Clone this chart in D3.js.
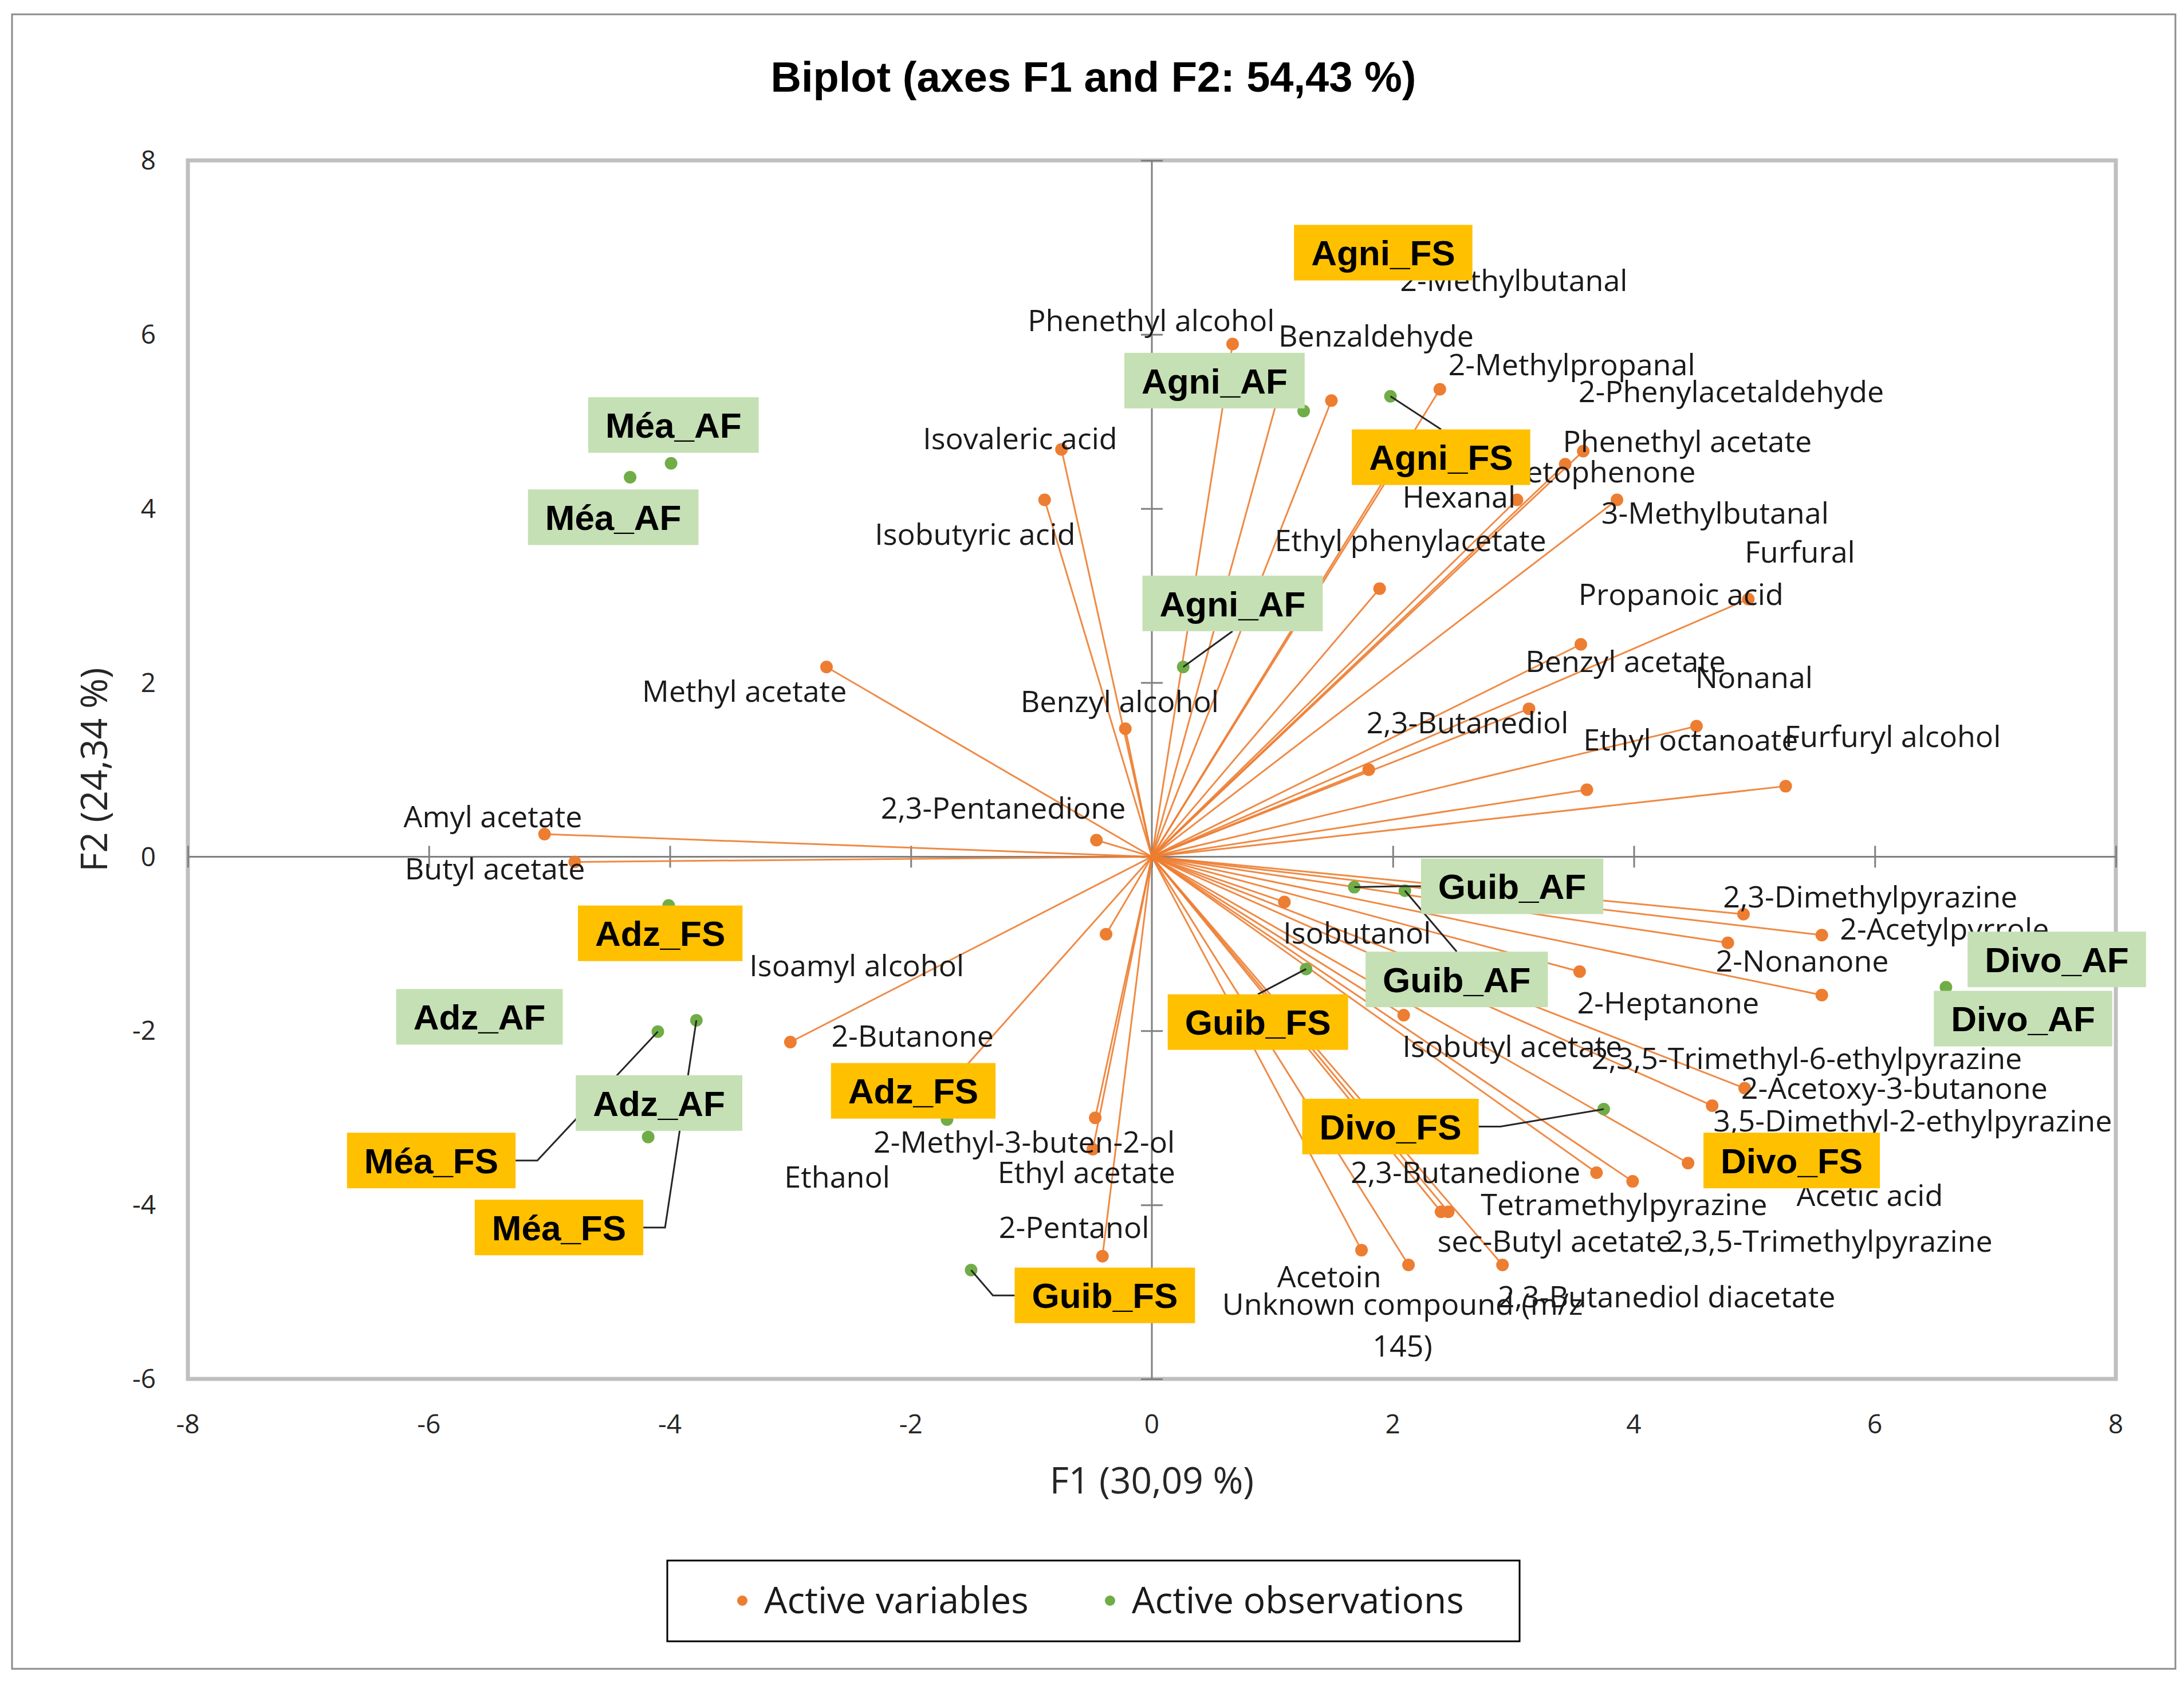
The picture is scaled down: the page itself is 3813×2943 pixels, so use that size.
<!DOCTYPE html>
<html><head><meta charset="utf-8">
<script src="https://cdn.jsdelivr.net/npm/d3@7"></script>
<style>body{margin:0;background:#fff}</style>
</head><body>
<svg id="chart" width="3813" height="2943" xmlns="http://www.w3.org/2000/svg"></svg>
<script>
// ---------- DATA ----------
const chartTitle = "Biplot (axes F1 and F2: 54,43 %)";
const xAxisTitle = "F1 (30,09 %)";
const yAxisTitle = "F2 (24,34 %)";
const xTicks = [-8, -6, -4, -2, 0, 2, 4, 6, 8];
const yTicks = [-6, -4, -2, 0, 2, 4, 6, 8];
const legendLabels = ["Active variables", "Active observations"];

// Active variables (loadings scaled to the biplot)
const varNames = ["Phenethyl alcohol","Benzaldehyde","2-Methylbutanal","2-Methylpropanal","2-Phenylacetaldehyde",
  "Phenethyl acetate","Acetophenone","Hexanal","3-Methylbutanal","Furfural","Propanoic acid","Ethyl phenylacetate",
  "Benzyl acetate","Nonanal","2,3-Butanediol","Ethyl octanoate","Furfuryl alcohol","Isovaleric acid","Isobutyric acid",
  "Methyl acetate","Benzyl alcohol","Amyl acetate","2,3-Pentanedione","Butyl acetate","Isoamyl alcohol","2-Butanone",
  "Ethanol","2-Methyl-3-buten-2-ol","Ethyl acetate","2-Pentanol","Isobutanol","2,3-Dimethylpyrazine","2-Acetylpyrrole",
  "2-Nonanone","2-Heptanone","Isobutyl acetate","2,3,5-Trimethyl-6-ethylpyrazine","2-Acetoxy-3-butanone",
  "3,5-Dimethyl-2-ethylpyrazine","Acetic acid","2,3-Butanedione","Tetramethylpyrazine","sec-Butyl acetate",
  "2,3,5-Trimethylpyrazine","Acetoin","Unknown compound (m/z|145)","2,3-Butanediol diacetate"];
const varF1 = [0.67,1.49,1.08,2.39,2.05, 3.58,3.43,3.03,3.86,4.95,3.56,1.89, 3.13,4.52,1.80,3.61,5.26,-0.75,-0.89,
  -2.70,-0.22,-5.04,-0.46,-4.79,-3.00,-1.70, -0.38,-0.47,-0.49,-0.41,1.10,4.91,5.56, 4.78,3.55,2.09,5.56,4.92,
  4.65,4.45,3.69,3.99,2.40, 2.46,1.74,2.13,2.91];
const varF2 = [5.89,5.24,5.45,5.37,4.55, 4.66,4.51,4.10,4.10,2.96,2.44,3.08, 1.70,1.50,1.00,0.77,0.81,4.68,4.10,
  2.18,1.47,0.26,0.19,-0.06,-2.13,-2.65, -0.89,-3.00,-3.36,-4.59,-0.52,-0.66,-0.90, -0.99,-1.32,-1.82,-1.59,-2.66,
  -2.86,-3.52,-3.63,-3.73,-4.08, -4.08,-4.52,-4.69,-4.69];
// label anchor positions (in F1/F2 units) as placed in the original chart
const varLabelF1 = [-1.03,1.05,2.06,2.46,3.54, 3.41,2.83,2.08,3.73,4.92,3.54,1.02, 3.10,4.51,1.78,3.58,5.25,-1.90,-2.30,
  -4.23,-1.09,-6.21,-2.25,-6.20,-3.34,-2.66, -3.05,-2.31,-1.28,-1.27,1.09,4.74,5.71, 4.68,3.53,2.08,3.65,4.89,
  4.66,5.35,1.65,2.73,2.37, 4.27,1.04,2.08,2.87];
const varLabelF2 = [6.16,5.98,6.62,5.65,5.34, 4.77,4.42,4.13,3.95,3.50,3.01,3.63, 2.24,2.06,1.54,1.34,1.38,4.80,3.70,
  1.90,1.78,0.46,0.56,-0.14,-1.25,-2.06, -3.68,-3.28,-3.63,-4.26,-0.88,-0.46,-0.83, -1.20,-1.68,-2.18,-2.32,-2.66,
  -3.04,-3.89,-3.63,-4.00,-4.42, -4.42,-4.83,-5.14,-5.06];

// Active observations
const obsNames = ["Agni_FS","Agni_AF","Agni_FS","Agni_AF","Méa_AF","Méa_AF","Guib_AF","Guib_AF","Adz_FS","Adz_AF",
  "Guib_FS","Divo_AF","Divo_AF","Adz_FS","Adz_AF","Divo_FS","Divo_FS","Méa_FS","Méa_FS","Guib_FS"];
const obsF1 = [1.90,1.26,1.98,0.26,-3.99,-4.33,1.68,2.10,-4.01,-5.60, 1.28,6.59,6.62,-1.70,-4.18,3.75,5.30,-4.10,-3.78,-1.50];
const obsF2 = [6.95,5.12,5.29,2.18,4.52,4.36,-0.35,-0.39,-0.56,-1.85, -1.29,-1.50,-1.62,-3.02,-3.22,-2.90,-3.50,-2.01,-1.88,-4.75];
// label box centres (F1/F2 units) and leader-line side
const obsLabelF1 = [1.92,0.52,2.40,0.67,-3.97,-4.47,2.99,2.53,-4.08,-5.58, 0.88,7.51,7.23,-1.98,-4.09,1.98,5.31,-5.98,-4.92,-0.39];
const obsLabelF2 = [6.94,5.47,4.59,2.91,4.96,3.90,-0.34,-1.41,-0.88,-1.84, -1.90,-1.18,-1.86,-2.69,-2.83,-3.10,-3.49,-3.49,-4.26,-5.04];
const obsLeader = [null,null,"top","bottom",null,null,"left","top",null,null,"top",null,null,null,null,"right",null,"right","right","left"];

// ---------- DRAWING ----------
const W = 3813, H = 2943;
const plot = {left: 328, right: 3694, top: 280, bottom: 2407};
const COL_VAR = "#ED7D31", COL_OBS = "#70AD47", COL_FS = "#FFC000", COL_AF = "#C5E0B4";
const FONT_TXT = "'Open Sans', 'Noto Sans', sans-serif";
const FONT_BOLD = "'Liberation Sans', Arial, sans-serif";

const svg = d3.select("#chart");
const x = d3.scaleLinear().domain([-8, 8]).range([plot.left, plot.right]);
const y = d3.scaleLinear().domain([-6, 8]).range([plot.bottom, plot.top]);

svg.append("rect").attr("x", 0).attr("y", 0).attr("width", W).attr("height", H).attr("fill", "#fff");
// outer frame
svg.append("rect").attr("x", 21).attr("y", 25).attr("width", 3777).attr("height", 2888)
  .attr("fill", "none").attr("stroke", "#8c8c8c").attr("stroke-width", 3);

// title
svg.append("text").attr("x", 1909).attr("y", 134).attr("text-anchor", "middle").attr("dy", "0.35em")
  .attr("font-family", FONT_BOLD).attr("font-weight", "bold").attr("font-size", 74)
  .text(chartTitle);

// plot border
svg.append("rect").attr("x", plot.left).attr("y", plot.top)
  .attr("width", plot.right - plot.left).attr("height", plot.bottom - plot.top)
  .attr("fill", "none").attr("stroke", "#BFBFBF").attr("stroke-width", 7);

// zero axes with cross ticks
const xAxis = d3.axisBottom(x).tickValues(xTicks).tickSize(38).tickFormat("");
const yAxis = d3.axisLeft(y).tickValues(yTicks).tickSize(38).tickFormat("");
const gx = svg.append("g").attr("transform", `translate(0,${y(0) - 19})`).call(xAxis);
gx.select(".domain").remove();
gx.selectAll("line").attr("stroke", "#808080").attr("stroke-width", 3);
svg.append("line").attr("x1", plot.left).attr("x2", plot.right).attr("y1", y(0)).attr("y2", y(0))
  .attr("stroke", "#808080").attr("stroke-width", 3);
const gy = svg.append("g").attr("transform", `translate(${x(0) + 19},0)`).call(yAxis);
gy.select(".domain").remove();
gy.selectAll("line").attr("stroke", "#808080").attr("stroke-width", 3);
svg.append("line").attr("x1", x(0)).attr("x2", x(0)).attr("y1", plot.top).attr("y2", plot.bottom)
  .attr("stroke", "#808080").attr("stroke-width", 3);

// tick labels (outside the plot, at the frame)
svg.append("g").selectAll("text").data(xTicks).join("text")
  .attr("x", d => x(d)).attr("y", 2486).attr("dy", "0.35em").attr("text-anchor", "middle")
  .attr("font-family", FONT_TXT).attr("font-size", 46).attr("fill", "#262626").text(d => d);
svg.append("g").selectAll("text").data(yTicks).join("text")
  .attr("x", 272).attr("y", d => y(d)).attr("dy", "0.35em").attr("text-anchor", "end")
  .attr("font-family", FONT_TXT).attr("font-size", 46).attr("fill", "#262626").text(d => d);

// axis titles
svg.append("text").attr("x", x(0)).attr("y", 2585).attr("dy", "0.35em").attr("text-anchor", "middle")
  .attr("font-family", FONT_TXT).attr("font-size", 64).attr("fill", "#262626").text(xAxisTitle);
svg.append("text").attr("transform", `translate(165,${(plot.top + plot.bottom) / 2}) rotate(-90)`)
  .attr("dy", "0.35em").attr("text-anchor", "middle")
  .attr("font-family", FONT_TXT).attr("font-size", 64).attr("fill", "#262626").text(yAxisTitle);

// variable vectors
const vars = varNames.map((n, i) => ({name: n, f1: varF1[i], f2: varF2[i], lx: varLabelF1[i], ly: varLabelF2[i]}));
const obs = obsNames.map((n, i) => ({name: n, f1: obsF1[i], f2: obsF2[i], bx: obsLabelF1[i], by: obsLabelF2[i], leader: obsLeader[i]}));

svg.append("g").selectAll("line").data(vars).join("line")
  .attr("x1", x(0)).attr("y1", y(0)).attr("x2", d => x(d.f1)).attr("y2", d => y(d.f2))
  .attr("stroke", COL_VAR).attr("stroke-width", 3).attr("stroke-opacity", 0.9);
svg.append("g").selectAll("circle").data(vars).join("circle")
  .attr("cx", d => x(d.f1)).attr("cy", d => y(d.f2)).attr("r", 11).attr("fill", COL_VAR);

// variable labels
const vl = svg.append("g").selectAll("text").data(vars).join("text")
  .attr("font-family", FONT_TXT).attr("font-size", 52).attr("fill", "#1a1a1a");
vl.each(function(d) {
  const t = d3.select(this);
  const parts = d.name.split("|");
  if (parts.length === 1) {
    t.attr("x", x(d.lx)).attr("y", y(d.ly)).attr("dy", "0.35em").text(d.name);
  } else {
    t.attr("text-anchor", "middle");
    parts.forEach((p, k) => {
      t.append("tspan").attr("x", x(d.lx)).attr("y", y(d.ly) + k * 73).attr("dy", "0.35em").text(p);
    });
  }
});

// observation points
svg.append("g").selectAll("circle").data(obs).join("circle")
  .attr("cx", d => x(d.f1)).attr("cy", d => y(d.f2)).attr("r", 11).attr("fill", COL_OBS);

// observation label boxes
const BOX_H = 97, PAD = 30, STUB = 38;
const boxes = svg.append("g").selectAll("g").data(obs).join("g");
boxes.each(function(d) {
  const g = d3.select(this);
  const rect = g.append("rect");
  const t = g.append("text").attr("x", x(d.bx)).attr("y", y(d.by)).attr("dy", "0.36em")
    .attr("text-anchor", "middle").attr("font-family", FONT_BOLD).attr("font-weight", "bold")
    .attr("font-size", 62).attr("fill", "#000").text(d.name);
  const w = t.node().getComputedTextLength() + 2 * PAD;
  d.w = w;
  rect.attr("x", x(d.bx) - w / 2).attr("y", y(d.by) - BOX_H / 2).attr("width", w).attr("height", BOX_H)
    .attr("fill", d.name.endsWith("FS") ? COL_FS : COL_AF);
});

// leader lines (drawn beneath boxes)
const leaders = svg.insert("g", () => boxes.node().parentNode);
obs.filter(d => d.leader).forEach(d => {
  const cx = x(d.bx), cy = y(d.by), px = x(d.f1), py = y(d.f2);
  let pts;
  if (d.leader === "top") pts = [[px, py], [cx, cy - BOX_H / 2]];
  else if (d.leader === "bottom") pts = [[px, py], [cx, cy + BOX_H / 2]];
  else if (d.leader === "left") pts = [[px, py], [cx - d.w / 2 - STUB, cy], [cx - d.w / 2, cy]];
  else pts = [[px, py], [cx + d.w / 2 + STUB, cy], [cx + d.w / 2, cy]];
  leaders.append("path").attr("d", d3.line()(pts)).attr("fill", "none")
    .attr("stroke", "#262626").attr("stroke-width", 3);
});

// legend
const lg = svg.append("g");
lg.append("rect").attr("x", 1165).attr("y", 2724).attr("width", 1488).attr("height", 141)
  .attr("fill", "#fff").attr("stroke", "#000").attr("stroke-width", 3);
const legendItems = [{label: legendLabels[0], color: COL_VAR, cx: 1296}, {label: legendLabels[1], color: COL_OBS, cx: 1938}];
legendItems.forEach(it => {
  lg.append("circle").attr("cx", it.cx).attr("cy", 2794).attr("r", 9).attr("fill", it.color);
  lg.append("text").attr("x", it.cx + 38).attr("y", 2794).attr("dy", "0.35em")
    .attr("font-family", FONT_TXT).attr("font-size", 64).attr("fill", "#1a1a1a")
    .text(it.label);
});
</script>
</body></html>
